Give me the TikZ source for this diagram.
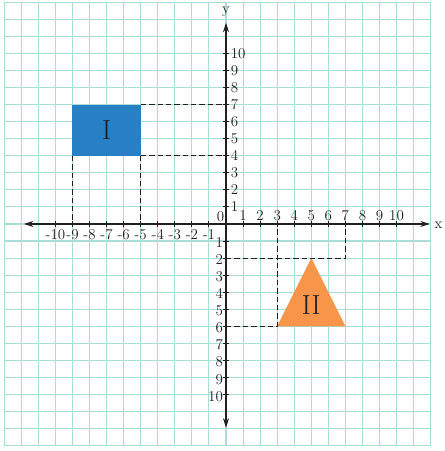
\documentclass[tikz,border=0pt]{standalone}
\usetikzlibrary{arrows.meta,scopes}
\definecolor{gridteal}{HTML}{ABDDD8}
\definecolor{shapeblue}{HTML}{2880C4}
\definecolor{shapeorange}{HTML}{F7964A}
\definecolor{inkgray}{HTML}{231F20}
\tikzset{
	axisline/.style={inkgray, line width=0.9pt, {Stealth[length=8pt,width=5pt]}-{Stealth[length=8pt,width=5pt]}},
	guide/.style={inkgray, line width=0.8pt, dash pattern=on 4.5pt off 2.5pt},
	ticklabel/.style={inkgray, inner sep=1pt, font=\fontsize{12.5}{14}\selectfont},
	shapelabel/.style={inkgray, font=\fontsize{23}{26}\selectfont}
}
\begin{document}
\begin{tikzpicture}[x=0.5cm, y=0.5cm]
			\useasboundingbox (-13.25,-13.31) rectangle (12.78,13.13);
			\draw[gridteal, line width=0.9pt, step=0.5cm] (-13,-13) grid (12,13);

			% the two figures
			\fill[shapeblue] (-9,4) rectangle (-5,7);
			\fill[shapeorange] (3,-6) -- (7,-6) -- (5,-2) -- cycle;
			\node[shapelabel] (I) at (-7,5.5) {I};
			\node[shapelabel] (II) at (5,-4.75) {II};

			{ [guide]
				\draw (-5,7) -- (0,7);
				\draw (-5,4) -- (0,4);
				\draw (-9,4) -- (-9,0);
				\draw (-5,4) -- (-5,0);

				\draw (0,-2) -- (7,-2) -- (7,0);
				\draw (0,-6) -- (3,-6) -- (3,0);
			}

			% axes
			\coordinate (xl) at (-11.85,0);
			\coordinate (xr) at (11.95,0);
			\coordinate (yb) at (0,-11.95);
			\coordinate (yt) at (0,11.8);
			\draw[axisline] (xl) -- (xr);
			\draw[axisline] (yb) -- (yt);
			\node[ticklabel] (xlab) at (12.45,-0.1) {x};
			\node[ticklabel] (ylab) at (0,12.45) {y};
			\node[ticklabel, anchor=south east] (O) at (-0.02,0.05) {0};

			{ [inkgray, line width=0.8pt]
				\foreach \i in {-10,...,-1,1,2,...,10} {
					\draw (\i,-0.18) -- (\i,0.18);
					\draw (-0.18,\i) -- (0.18,\i);
				}
			}

			{ [ticklabel]
				\foreach \i in {1,...,10} {
					\node[anchor=south] (xp\i) at (\i,0.12) {\i};
					\node[anchor=north] (xn\i) at (-\i,-0.25) {-\i};
					\node[anchor=west] (yp\i) at (0.2,\i) {\i};
					\node[anchor=east] (yn\i) at (-0.1,-\i-0.1) {\i};
				}
			}
		\end{tikzpicture}
\end{document}
